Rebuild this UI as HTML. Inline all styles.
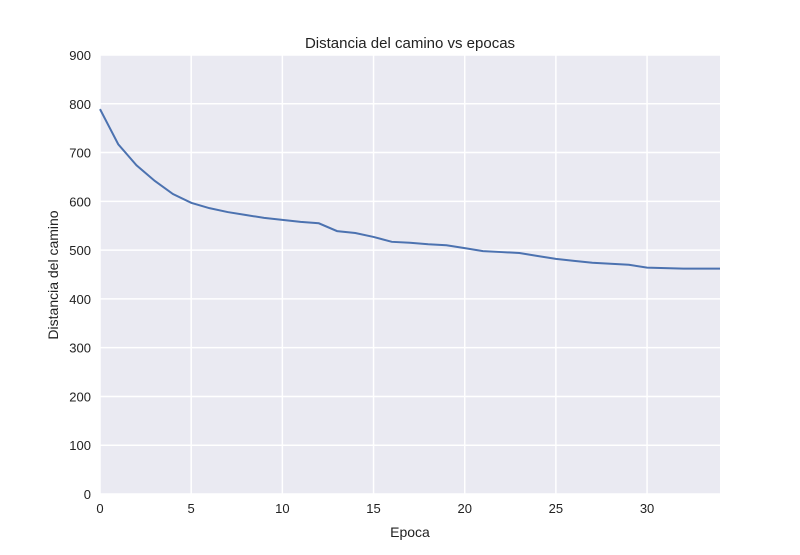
<!DOCTYPE html>
<html><head><meta charset="utf-8"><style>
body{margin:0;background:#fff;font-family:"Liberation Sans",sans-serif}
svg text{font-family:"Liberation Sans",sans-serif;fill:#222}
</style></head><body>
<svg id="c" width="800" height="550"></svg>
<script>
const xTicks=[0,5,10,15,20,25,30];
const yTicks=[0,100,200,300,400,500,600,700,800,900];
const epochs=[0,1,2,3,4,5,6,7,8,9,10,11,12,13,14,15,16,17,18,19,20,21,22,23,24,25,26,27,28,29,30,31,32,33,34];
const distances=[789,717,674,642,615,597,586,578,572,566,562,558,555,539,535,527,517,515,512,510,504,498,496,494,488,482,478,474,472,470,464,463,462,462,462];
const L=100,R=720,T=55,B=494;
const xs=v=>L+(v-0)/(34-0)*(R-L);
const ys=v=>B-(v-0)/(900-0)*(B-T);
const svg=document.getElementById('c');
const NS='http://www.w3.org/2000/svg';
function mk(t,a,p){const e=document.createElementNS(NS,t);for(const k in a)e.setAttribute(k,a[k]);(p||svg).appendChild(e);return e;}
const bg=mk('rect',{x:L,y:T,width:R-L,height:B-T,fill:'#eaeaf2'});


xTicks.forEach(v=>{
 const g=mk('line',{x1:xs(v),x2:xs(v),y1:T,y2:B,stroke:'#fff','stroke-width':1.5});
 
 
 const t=mk('text',{x:xs(v),y:B+19,'text-anchor':'middle','font-size':13});
 t.textContent=v;
 
 
});
yTicks.forEach(v=>{
 const g=mk('line',{x1:L,x2:R,y1:ys(v),y2:ys(v),stroke:'#fff','stroke-width':1.5});
 
 
 const t=mk('text',{x:L-9,y:ys(v)+5,'text-anchor':'end','font-size':13});
 t.textContent=v;
 
 
});
const line=mk('polyline',{points:epochs.map((e,i)=>xs(e)+','+ys(distances[i])).join(' '),fill:'none',stroke:'#4c72b0','stroke-width':2});


const title=mk('text',{x:410,y:48,'text-anchor':'middle','font-size':15});
title.textContent='Distancia del camino vs epocas';


const xl=mk('text',{x:410,y:537,'text-anchor':'middle','font-size':14});
xl.textContent='Epoca';


const yl=mk('text',{x:58,y:275,'text-anchor':'middle','font-size':14,transform:'rotate(-90 58 275)'});
yl.textContent='Distancia del camino';


</script>
</body></html>
